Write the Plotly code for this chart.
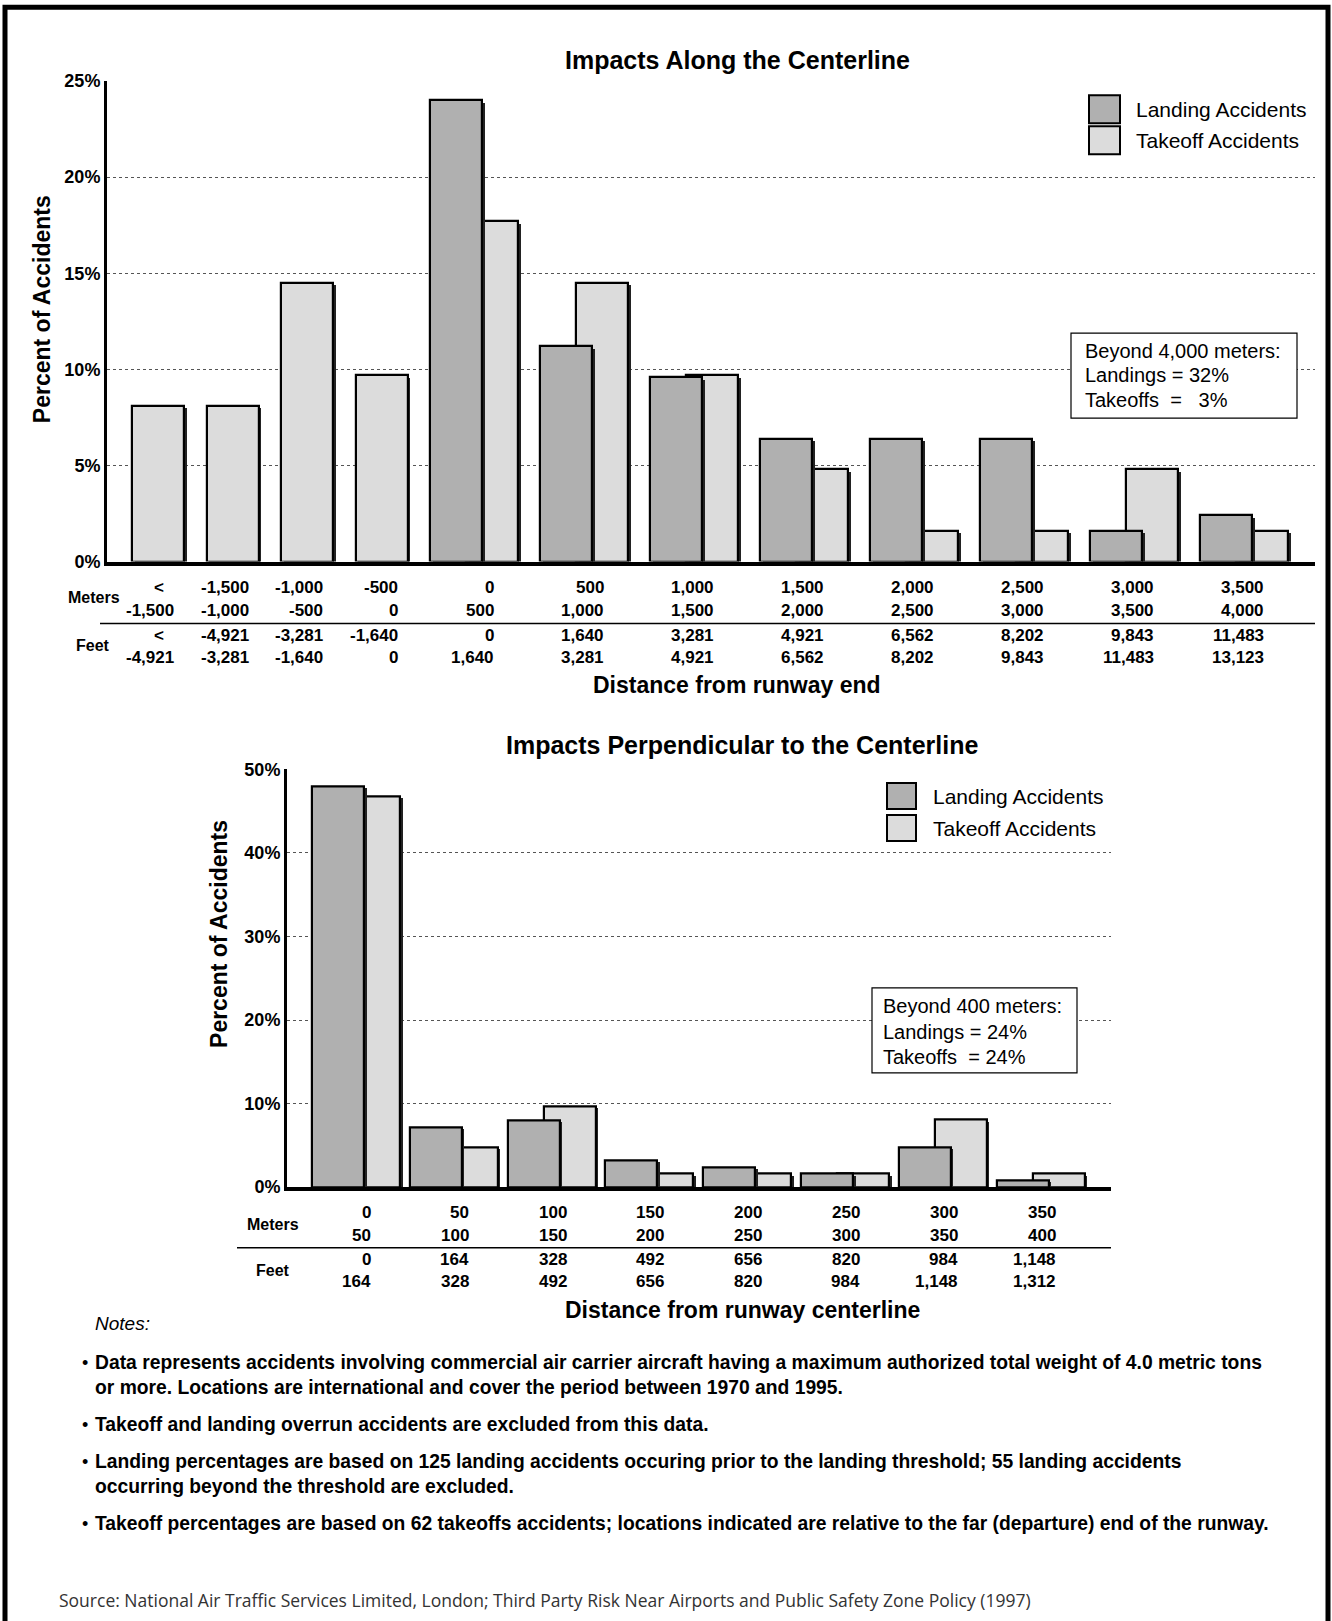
import plotly.graph_objects as go

W, H = 1332, 1621

# ---------------- data: impacts along the centerline ----------------
along_m_lo = ["<", "-1,500", "-1,000", "-500", "0", "500", "1,000", "1,500", "2,000", "2,500", "3,000", "3,500"]
along_m_hi = ["-1,500", "-1,000", "-500", "0", "500", "1,000", "1,500", "2,000", "2,500", "3,000", "3,500", "4,000"]
along_ft_lo = ["<", "-4,921", "-3,281", "-1,640", "0", "1,640", "3,281", "4,921", "6,562", "8,202", "9,843", "11,483"]
along_ft_hi = ["-4,921", "-3,281", "-1,640", "0", "1,640", "3,281", "4,921", "6,562", "8,202", "9,843", "11,483", "13,123"]
along_landing = [None, None, None, None, 24.0, 11.2, 9.6, 6.4, 6.4, 6.4, 1.6, 2.4]
along_takeoff = [8.1, 8.1, 14.5, 9.7, 17.7, 14.5, 9.7, 4.8, 1.6, 1.6, 4.8, 1.6]
along_yticks = [0, 5, 10, 15, 20, 25]

# ---------------- data: impacts perpendicular to the centerline ----------------
perp_m_lo = ["0", "50", "100", "150", "200", "250", "300", "350"]
perp_m_hi = ["50", "100", "150", "200", "250", "300", "350", "400"]
perp_ft_lo = ["0", "164", "328", "492", "656", "820", "984", "1,148"]
perp_ft_hi = ["164", "328", "492", "656", "820", "984", "1,148", "1,312"]
perp_landing = [48.0, 7.2, 8.0, 3.2, 2.4, 1.6, 4.8, 0.8]
perp_takeoff = [46.8, 4.8, 9.7, 1.6, 1.6, 1.6, 8.1, 1.6]
perp_yticks = [0, 10, 20, 30, 40, 50]

notes = [
    ("\u2022", "Data represents accidents involving commercial air carrier aircraft having a maximum authorized total weight of 4.0 metric tons"),
    ("", "or more. Locations are international and cover the period between 1970 and 1995."),
    ("\u2022", "Takeoff and landing overrun accidents are excluded from this data."),
    ("\u2022", "Landing percentages are based on 125 landing accidents occuring prior to the landing threshold; 55 landing accidents"),
    ("", "occurring beyond the threshold are excluded."),
    ("\u2022", "Takeoff percentages are based on 62 takeoffs accidents; locations indicated are relative to the far (departure) end of the runway."),
]
source = "Source: National Air Traffic Services Limited, London; Third Party Risk Near Airports and Public Safety Zone Policy (1997)"

# ---------------- styling / layout constants ----------------
LAND_C = "#b0b0b0"
TAKE_C = "#dcdcdc"
FONT = "Liberation Sans, Arial, sans-serif"
NARROW = "Liberation Sans Narrow, Arial Narrow, Liberation Sans, sans-serif"
BW, OV = 52, 16
SH = 2.5  # shadow offset in px

TOP_L, TOP_R, TOP_T, TOP_B = 107, 1315, 80.7, 561.5
BOT_L, BOT_R, BOT_T, BOT_B = 287, 1111, 769.4, 1187.2

# vertical calibration (measured rendering compression around the middle)
VS, VC = 0.988, 810.0


def px(x):
    return x / W


def py(y):
    y = (y - VC) / VS + VC
    return 1 - y / H


def group_lefts(landing, pad, step_double, step_single):
    lefts, pos = [], pad
    for v in landing:
        lefts.append(pos)
        pos += step_double if v is not None else step_single
    return lefts


top_left = group_lefts(along_landing, 25, 110, 74.5)
top_land_x = [l + BW / 2 for l in top_left]
top_take_x = [l + BW / 2 if v is None else l + BW - OV + BW / 2 for l, v in zip(top_left, along_landing)]
top_lab_x = [l + BW - 8 if v is None else l + 2 * BW - OV - 22 for l, v in zip(top_left, along_landing)]

bot_left = group_lefts(perp_landing, 25, 97.8, 97.8)
bot_land_x = [l + BW / 2 for l in bot_left]
bot_take_x = [l + BW - OV + BW / 2 for l in bot_left]
bot_lab_x = [l + 2 * BW - OV - 27 for l in bot_left]

top_unit = 25 / (TOP_B - TOP_T)   # data units per px
bot_unit = 50 / (BOT_B - BOT_T)

fig = go.Figure()

bar_line = dict(color="black", width=2.2)


def bars(xs, ys, color, name, xa, ya, unit):
    # soft drop shadow on the right side, then the bar itself
    sx = [x + SH for x in xs]
    sy = [None if v is None else max(v - SH * unit, 0) for v in ys]
    fig.add_trace(go.Bar(x=sx, y=sy, width=BW, marker=dict(color="#222222", line=dict(width=0)),
                         xaxis=xa, yaxis=ya, hoverinfo="skip", showlegend=False))
    fig.add_trace(go.Bar(x=xs, y=ys, width=BW, name=name, marker=dict(color=color, line=bar_line),
                         xaxis=xa, yaxis=ya, hoverinfo="y"))


# takeoff first so landing bars are drawn in front
bars(top_take_x, along_takeoff, TAKE_C, "Takeoff Accidents", "x", "y", top_unit)
bars(top_land_x, along_landing, LAND_C, "Landing Accidents", "x", "y", top_unit)
bars(bot_take_x, perp_takeoff, TAKE_C, "Takeoff Accidents", "x2", "y2", bot_unit)
bars(bot_land_x, perp_landing, LAND_C, "Landing Accidents", "x2", "y2", bot_unit)

tickfont = dict(family=FONT, size=18, color="black", weight="bold")
common_x = dict(showticklabels=False, showgrid=False, zeroline=False, showline=True,
                linecolor="black", linewidth=4, ticks="", fixedrange=True)
common_y = dict(showline=True, linecolor="black", linewidth=3, zeroline=False, ticks="",
                showgrid=True, gridcolor="#555555", gridwidth=1, griddash="dot",
                tickfont=tickfont, fixedrange=True)

fig.update_layout(
    width=W, height=H, margin=dict(l=0, r=0, t=0, b=0, pad=0), autosize=False,
    paper_bgcolor="white", plot_bgcolor="white",
    barmode="overlay", showlegend=False, bargap=0,
    xaxis=dict(domain=[px(TOP_L), px(TOP_R)], range=[0, TOP_R - TOP_L], anchor="y", **common_x),
    yaxis=dict(domain=[py(TOP_B), py(TOP_T)], range=[0, 25], anchor="x",
               tickvals=along_yticks, ticktext=[f"{v}%" for v in along_yticks], **common_y),
    xaxis2=dict(domain=[px(BOT_L), px(BOT_R)], range=[0, BOT_R - BOT_L], anchor="y2", **common_x),
    yaxis2=dict(domain=[py(BOT_B), py(BOT_T)], range=[0, 50], anchor="x2",
                tickvals=perp_yticks, ticktext=[f"{v}%" for v in perp_yticks], **common_y),
)

ann = []
shapes = []


def text(x, y, s, size, xanchor="center", weight="normal", family=FONT, xref="paper",
         yanchor="middle", angle=0, italic=False, color="black", xshift=0):
    ann.append(dict(x=x if xref != "paper" else px(x), y=py(y), xref=xref, yref="paper", text=s,
                    showarrow=False, xanchor=xanchor, yanchor=yanchor, textangle=angle, xshift=xshift,
                    font=dict(family=family, size=size, color=color, weight=weight,
                              style="italic" if italic else "normal")))


# titles
text(737, 60, "Impacts Along the Centerline", 25, weight="bold")
text(742, 744.5, "Impacts Perpendicular to the Centerline", 25, weight="bold")
text(42, 309, "Percent of Accidents", 23, weight="bold", angle=-90)
text(219, 934, "Percent of Accidents", 23, weight="bold", angle=-90)
text(737, 684.5, "Distance from runway end", 23, weight="bold")
text(742, 1310, "Distance from runway centerline", 23, weight="bold")

# category labels (meters / feet)
top_rows = [587.3, 610, 635, 657.6]
for i, xl in enumerate(top_lab_x):
    for row, arr in zip(top_rows, [along_m_lo, along_m_hi, along_ft_lo, along_ft_hi]):
        text(xl, row, arr[i], 17, xanchor="right", weight="bold", xref="x",
             xshift=-10 if arr[i] == "<" else 0)
bot_rows = [1213, 1235.6, 1259.4, 1282]
for i, xl in enumerate(bot_lab_x):
    for row, arr in zip(bot_rows, [perp_m_lo, perp_m_hi, perp_ft_lo, perp_ft_hi]):
        text(xl, row, arr[i], 17, xanchor="right", weight="bold", xref="x2")
text(94, 597.6, "Meters", 16, weight="bold")
text(93, 645, "Feet", 16, weight="bold")
text(273, 1225, "Meters", 16, weight="bold")
text(273, 1271, "Feet", 16, weight="bold")

shapes.append(dict(type="line", xref="paper", yref="paper", x0=px(100), x1=px(TOP_R), y0=py(623.5), y1=py(623.5),
                   line=dict(color="black", width=1.5)))
shapes.append(dict(type="line", xref="paper", yref="paper", x0=px(237), x1=px(BOT_R), y0=py(1248), y1=py(1248),
                   line=dict(color="black", width=1.5)))


# legends
def legend(box_x, ys, text_x):
    for (y0, y1), lab, col in zip(ys, ["Landing Accidents", "Takeoff Accidents"], [LAND_C, TAKE_C]):
        shapes.append(dict(type="rect", xref="paper", yref="paper", x0=px(box_x[0]), x1=px(box_x[1]),
                           y0=py(y1), y1=py(y0), fillcolor=col, line=dict(color="black", width=2)))
        text(text_x, (y0 + y1) / 2, lab, 21, xanchor="left")


legend((1089, 1120), [(95, 123), (126, 154)], 1134)
legend((887, 916), [(783, 809), (815, 841)], 931)


# "beyond" boxes
def info_box(x0, x1, y0, y1, tx, lines, ys):
    shapes.append(dict(type="rect", xref="paper", yref="paper", x0=px(x0), x1=px(x1), y0=py(y1), y1=py(y0),
                       fillcolor="white", line=dict(color="black", width=1.2)))
    for s, y in zip(lines, ys):
        text(tx, y, s, 20, xanchor="left")


NB = "\u00a0"
info_box(1071, 1297, 333, 418, 1083,
         ["Beyond 4,000 meters:", "Landings = 32%", f"Takeoffs{NB}{NB}={NB}{NB}{NB}3%"], [350.5, 375, 400])
info_box(872, 1077, 988, 1073, 881,
         ["Beyond 400 meters:", "Landings = 24%", f"Takeoffs{NB}{NB}= 24%"], [1006, 1032, 1057])

# notes
text(93, 1324, "Notes:", 19, xanchor="left", italic=True)
note_y = [1363, 1388, 1425, 1462, 1487, 1524]
for (b, s), y in zip(notes, note_y):
    if b:
        text(80, y, b, 18, xanchor="left")
    text(93, y, s, 19.3, xanchor="left", family=NARROW, weight="bold")

text(57, 1600, source, 17.5, xanchor="left", family="Open Sans, sans-serif", color="#333333")

# outer frame (open at the bottom)
shapes.append(dict(type="rect", xref="paper", yref="paper", x0=px(5), x1=px(1328), y0=py(1700), y1=py(7),
                   line=dict(color="black", width=5), fillcolor="rgba(0,0,0,0)"))

fig.update_layout(annotations=ann, shapes=shapes)

post = ("var d=document.getElementById('{plot_id}');"
        "d.style.position='fixed';d.style.left='0px';d.style.top='0px';"
        "document.body.style.margin='0';document.body.style.padding='0';"
        "document.body.style.overflow='hidden';document.documentElement.style.overflow='hidden';")
fig.write_html("out.html", config={"displayModeBar": False}, post_script=post)
